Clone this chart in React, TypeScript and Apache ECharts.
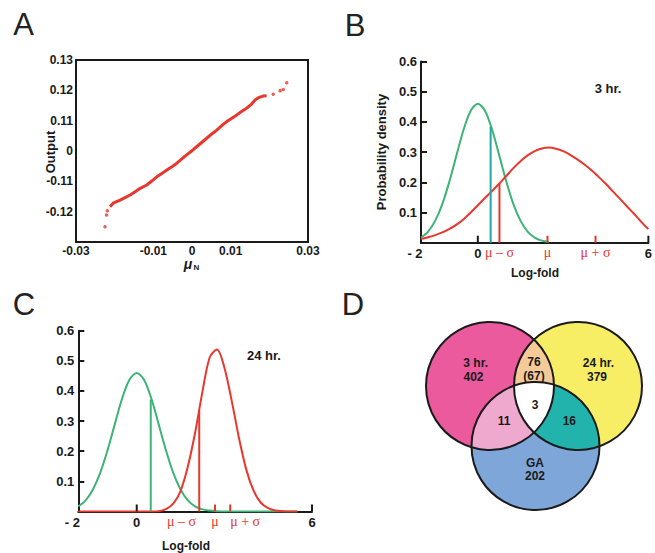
import React, { useEffect, useRef } from "react";
import * as echarts from "echarts";

// ---------------- Panel A : Q-Q plot ----------------
const A_TICKS_X = [-0.03, -0.02, -0.01, 0, 0.01, 0.02, 0.03];
const A_TICK_LABELS_X = ["-0.03", "", "-0.01", "0", "0.01", "", "0.03"];
const A_TICKS_Y = [-0.03, -0.02, -0.01, 0, 0.01, 0.02, 0.03];
const A_TICK_LABELS_Y = ["", "-0.12", "-0.11", "0", "0.11", "0.12", "0.13"];
const A_LINE_X = [-0.0212, -0.0204, -0.0195, -0.0186, -0.0172, -0.016, -0.0147, -0.0134, -0.0117, -0.0104, -0.0091, -0.0078, -0.0065, -0.0052, -0.004, -0.0027, -0.0014, 0.0, 0.0012, 0.0025, 0.0038, 0.0051, 0.0064, 0.0077, 0.009, 0.0103, 0.0116, 0.0128, 0.0141, 0.0152, 0.0163, 0.0174, 0.0184, 0.0193];
const A_LINE_Y = [-0.0184, -0.0172, -0.0167, -0.0162, -0.0153, -0.0145, -0.0134, -0.0123, -0.0112, -0.0099, -0.0085, -0.0074, -0.0063, -0.0052, -0.0041, -0.0027, -0.0013, 0.0001, 0.0014, 0.0028, 0.0042, 0.0056, 0.0069, 0.0084, 0.0097, 0.0108, 0.0119, 0.013, 0.0141, 0.0152, 0.0168, 0.0177, 0.0181, 0.0182];
const A_OUT_X = [-0.0225, -0.0221, -0.0219, 0.021, 0.0228, 0.0236, 0.0245];
const A_OUT_Y = [-0.025, -0.0211, -0.0197, 0.0187, 0.0199, 0.0203, 0.0225];

// ---------------- Panels B & C : densities ----------------
const LOG_X = [-2, -1.75, -1.5, -1.25, -1, -0.75, -0.5, -0.25, 0, 0.25, 0.5, 0.75, 1, 1.25, 1.5, 1.75, 2, 2.25, 2.5, 2.75, 3, 3.25, 3.5, 3.75, 4, 4.25, 4.5, 4.75, 5, 5.25, 5.5, 5.75, 6];
const LOG_TICKS = [-2, 0, 2, 4, 6];
const LOG_TICK_LABELS = ["- 2", "0", "", "", "6"];
const DENSITY_TICKS = [0, 0.1, 0.2, 0.3, 0.4, 0.5, 0.6];
const DENSITY_LABELS = ["", "0.1", "0.2", "0.3", "0.4", "0.5", "0.6"];

const GREEN_B = [0.017, 0.037, 0.073, 0.128, 0.203, 0.29, 0.375, 0.437, 0.46, 0.437, 0.375, 0.29, 0.203, 0.128, 0.073, 0.037, 0.017, 0.007, 0.003, null, null, null, null, null, null, null, null, null, null, null, null, null, null];
const RED_B = [0.012, 0.018, 0.025, 0.034, 0.046, 0.06, 0.078, 0.1, 0.124, 0.148, 0.171, 0.195, 0.221, 0.247, 0.27, 0.289, 0.303, 0.312, 0.315, 0.311, 0.303, 0.291, 0.276, 0.259, 0.24, 0.218, 0.195, 0.17, 0.145, 0.12, 0.095, 0.069, 0.045];
const GREEN_C = [0.017, 0.037, 0.073, 0.128, 0.203, 0.29, 0.375, 0.437, 0.46, 0.437, 0.375, 0.29, 0.203, 0.128, 0.073, 0.037, 0.017, 0.007, 0.003, 0.001, 0, 0, 0, 0, 0, 0, 0, 0, 0, 0, 0, null, null];
const RED_C = [0, 0, 0, 0, 0, 0, 0, 0, 0, 0, 0, 0.001, 0.008, 0.026, 0.068, 0.149, 0.262, 0.398, 0.512, 0.538, 0.478, 0.368, 0.244, 0.139, 0.069, 0.029, 0.011, 0.003, 0.001, 0, 0, null, null];

// thresholds (vertical lines): [x, height]
const B_GREEN_CUT = [0.45, 0.385];
const B_RED_CUT = [0.76, 0.195];
const C_GREEN_CUT = [0.48, 0.372];
const C_RED_CUT = [2.14, 0.335];

const BLACK_TICKS = [0, 6];
const B_RED_TICKS = [2.45, 4.14];
const C_RED_TICKS = [2.68, 3.2];
const MU_LABELS = ["\u03bc \u2013 \u03c3", "\u03bc", "\u03bc + \u03c3"];
const B_MU_LABEL_AT = [0.76, 2.45, 4.14];
const C_MU_LABEL_AT = [1.53, 2.68, 3.71];

// ---------------- Panel D : Venn ----------------
const VENN_CX = [8.0, 16.8, 12.55];
const VENN_CY = [7.6, 7.6, 13.6];
const VENN_R = [6.4, 6.4, 6.4];
const VENN_TEXT = ["3 hr.", "402", "76", "(67)", "24 hr.", "379", "3", "11", "16", "GA", "202"];
const VENN_TEXT_X = [6.57, 6.35, 12.4, 12.4, 18.85, 18.7, 12.5, 9.4, 15.93, 12.5, 12.5];
const VENN_TEXT_Y = [5.3, 6.65, 5.2, 6.55, 5.3, 6.65, 9.5, 11.07, 11.07, 15.25, 16.6];

const FONT = "'Liberation Sans', Arial, Helvetica, sans-serif";
const SERIF = "'Liberation Serif', 'DejaVu Serif', serif";
const RED = "#E8372C";
const GREEN = "#3DB476";
const TEAL = "#22A8A4";
const INK = "#1a1a1a";

const VENN_FILL = ["#EA5A9D", "#F8EE66", "#7FA6D9"];
const VENN_PAIR_FILL = { py: "#F4CA98", pb: "#EFA8CE", yb: "#22B3AD" };

function pickLabel(ticks: number[], labels: string[]) {
  return (v: number) => {
    const i = ticks.findIndex((t) => Math.abs(t - v) < 1e-9);
    return i >= 0 ? labels[i] : "";
  };
}

function pairs(xs: number[], ys: (number | null)[]) {
  return xs.map((x, i) => [x, ys[i]]).filter((p) => p[1] != null);
}

function tickSeries(grid: number, values: number[], color: string, len: number) {
  return {
    type: "custom",
    xAxisIndex: grid,
    yAxisIndex: grid,
    clip: false,
    silent: true,
    z: 5,
    data: values.map((v) => [v, 0]),
    renderItem: (_p: any, api: any) => {
      const p = api.coord([api.value(0), 0]);
      return {
        type: "line",
        shape: { x1: p[0], y1: p[1], x2: p[0], y2: p[1] - len },
        style: { stroke: color, lineWidth: 2 },
      };
    },
  };
}

function muLabelSeries(grid: number, at: number[]) {
  return {
    type: "custom",
    xAxisIndex: grid,
    yAxisIndex: grid,
    clip: false,
    silent: true,
    data: at.map((v) => [v, 0]),
    renderItem: (params: any, api: any) => {
      const p = api.coord([api.value(0), 0]);
      return {
        type: "text",
        x: p[0],
        y: p[1] + 10,
        style: {
          text: MU_LABELS[params.dataIndex],
          fill: RED,
          font: `14px ${SERIF}`,
          align: "center",
          verticalAlign: "middle",
          textAlign: "center",
          textVerticalAlign: "middle",
        },
      };
    },
  };
}

function curve(grid: number, ys: (number | null)[], color: string) {
  return {
    type: "line",
    xAxisIndex: grid,
    yAxisIndex: grid,
    data: pairs(LOG_X, ys),
    smooth: 0.3,
    showSymbol: false,
    symbol: "none",
    lineStyle: { color, width: 2 },
    z: 3,
  };
}

function cutLine(grid: number, cut: number[], color: string) {
  return {
    type: "line",
    xAxisIndex: grid,
    yAxisIndex: grid,
    data: [
      [cut[0], 0],
      [cut[0], cut[1]],
    ],
    showSymbol: false,
    symbol: "none",
    lineStyle: { color, width: 2 },
    z: 4,
  };
}

function densityAxes(grid: number) {
  const x = {
    type: "value",
    gridIndex: grid,
    min: -2,
    max: 6,
    interval: 2,
    axisLine: { show: true, onZero: false, lineStyle: { color: INK, width: 2 } },
    axisTick: { show: false },
    splitLine: { show: false },
    axisLabel: {
      margin: 4,
      formatter: (v: number) => {
        const s = pickLabel(LOG_TICKS, LOG_TICK_LABELS)(v);
        return s === "- 2" ? `{l|${s}}` : s;
      },
      color: INK,
      fontFamily: FONT,
      fontWeight: "bold",
      fontSize: 13,
      rich: { l: { padding: [0, 12, 0, 0], fontFamily: FONT, fontWeight: "bold", fontSize: 13, color: INK } },
    },
  };
  const y = {
    type: "value",
    gridIndex: grid,
    min: 0,
    max: 0.6,
    interval: 0.1,
    axisLine: { show: true, onZero: false, lineStyle: { color: INK, width: 2 } },
    axisTick: { show: true, inside: true, length: 6, lineStyle: { color: INK, width: 2 } },
    splitLine: { show: false },
    axisLabel: {
      margin: 4,
      formatter: pickLabel(DENSITY_TICKS, DENSITY_LABELS),
      color: INK,
      fontFamily: FONT,
      fontWeight: "bold",
      fontSize: 13,
    },
  };
  return { x, y };
}

function vennSeries() {
  return {
    type: "custom",
    xAxisIndex: 3,
    yAxisIndex: 3,
    clip: false,
    silent: true,
    data: [[0, 0]],
    renderItem: (_params: any, api: any) => {
      const c = VENN_CX.map((x, i) => api.coord([x, VENN_CY[i]]));
      const r = VENN_R.map((rr) => api.size([rr, 0])[0]);
      const inside = (p: number[], j: number) =>
        Math.hypot(p[0] - c[j][0], p[1] - c[j][1]) <= r[j] + 0.3;
      const region = (ids: number[]) => {
        const pts: number[][] = [];
        ids.forEach((i) => {
          for (let k = 0; k < 1080; k++) {
            const t = (k / 1080) * Math.PI * 2;
            const p = [c[i][0] + r[i] * Math.cos(t), c[i][1] + r[i] * Math.sin(t)];
            if (ids.every((j) => j === i || inside(p, j))) pts.push(p);
          }
        });
        const mx = pts.reduce((s, p) => s + p[0], 0) / pts.length;
        const my = pts.reduce((s, p) => s + p[1], 0) / pts.length;
        pts.sort((a, b) => Math.atan2(a[1] - my, a[0] - mx) - Math.atan2(b[1] - my, b[0] - mx));
        return pts;
      };
      const children: any[] = [];
      c.forEach((cc, i) =>
        children.push({ type: "circle", shape: { cx: cc[0], cy: cc[1], r: r[i] }, style: { fill: VENN_FILL[i] } })
      );
      const poly = (ids: number[], fill: string) =>
        children.push({ type: "polygon", shape: { points: region(ids) }, style: { fill } });
      poly([0, 1], VENN_PAIR_FILL.py);
      poly([0, 2], VENN_PAIR_FILL.pb);
      poly([1, 2], VENN_PAIR_FILL.yb);
      poly([0, 1, 2], "#FFFFFF");
      c.forEach((cc, i) =>
        children.push({
          type: "circle",
          shape: { cx: cc[0], cy: cc[1], r: r[i] },
          style: { fill: "none", stroke: INK, lineWidth: 2 },
        })
      );
      VENN_TEXT.forEach((t, i) => {
        const p = api.coord([VENN_TEXT_X[i], VENN_TEXT_Y[i]]);
        children.push({
          type: "text",
          x: p[0],
          y: p[1],
          style: {
            text: t,
            fill: INK,
            font: `bold 12px ${FONT}`,
            align: "center",
            verticalAlign: "middle",
            textAlign: "center",
            textVerticalAlign: "middle",
          },
        });
      });
      return { type: "group", children };
    },
  };
}

function txt(text: string, x: number, y: number, font: string, extra: any = {}) {
  return {
    type: "text",
    x,
    y,
    silent: true,
    ...extra,
    style: {
      text,
      fill: extra.fill || INK,
      font,
      align: "center",
      verticalAlign: "middle",
      textAlign: "center",
      textVerticalAlign: "middle",
    },
  };
}

function buildOption() {
  const b = densityAxes(1);
  const cAx = densityAxes(2);
  const letterFont = `31px ${FONT}`;
  return {
    animation: false,
    backgroundColor: "#ffffff",
    grid: [
      { left: 76, top: 60, width: 232, height: 182, show: true, borderColor: INK, borderWidth: 2, backgroundColor: "transparent" },
      { left: 421, top: 61.5, width: 232, height: 181.2 },
      { left: 78.3, top: 330.7, width: 233.7, height: 180.8 },
      { left: 410, top: 310, width: 240, height: 220 },
    ],
    xAxis: [
      {
        type: "value",
        gridIndex: 0,
        min: -0.03,
        max: 0.03,
        interval: 0.01,
        axisLine: { show: false },
        axisTick: { show: false },
        splitLine: { show: false },
        axisLabel: {
          margin: 3,
          formatter: pickLabel(A_TICKS_X, A_TICK_LABELS_X),
          color: INK,
          fontFamily: FONT,
          fontWeight: "bold",
          fontSize: 12,
        },
      },
      b.x,
      cAx.x,
      { type: "value", gridIndex: 3, min: 0, max: 24, show: false },
    ],
    yAxis: [
      {
        type: "value",
        gridIndex: 0,
        min: -0.03,
        max: 0.03,
        interval: 0.01,
        axisLine: { show: false },
        axisTick: { show: false },
        splitLine: { show: false },
        axisLabel: {
          margin: 3,
          formatter: pickLabel(A_TICKS_Y, A_TICK_LABELS_Y),
          color: INK,
          fontFamily: FONT,
          fontWeight: "bold",
          fontSize: 12,
        },
      },
      b.y,
      cAx.y,
      { type: "value", gridIndex: 3, min: 0, max: 22, inverse: true, show: false },
    ],
    series: [
      {
        type: "line",
        xAxisIndex: 0,
        yAxisIndex: 0,
        data: pairs(A_LINE_X, A_LINE_Y),
        showSymbol: false,
        symbol: "none",
        lineStyle: { color: RED, width: 3 },
      },
      {
        type: "scatter",
        xAxisIndex: 0,
        yAxisIndex: 0,
        data: pairs(A_OUT_X, A_OUT_Y),
        symbolSize: 3.5,
        itemStyle: { color: RED },
      },
      // B
      curve(1, GREEN_B, GREEN),
      curve(1, RED_B, RED),
      cutLine(1, B_GREEN_CUT, TEAL),
      cutLine(1, B_RED_CUT, RED),
      tickSeries(1, BLACK_TICKS, INK, 7),
      tickSeries(1, B_RED_TICKS, RED, 7),
      muLabelSeries(1, B_MU_LABEL_AT),
      // C
      curve(2, GREEN_C, GREEN),
      curve(2, RED_C, RED),
      cutLine(2, C_GREEN_CUT, GREEN),
      cutLine(2, C_RED_CUT, RED),
      tickSeries(2, BLACK_TICKS, INK, 7),
      tickSeries(2, C_RED_TICKS, RED, 7),
      muLabelSeries(2, C_MU_LABEL_AT),
      // D
      vennSeries(),
    ],
    graphic: [
      txt("A", 23.5, 24, letterFont, { fill: "#222" }),
      txt("B", 355, 25, letterFont, { fill: "#222" }),
      txt("C", 24, 304, letterFont, { fill: "#222" }),
      txt("D", 353, 304, letterFont, { fill: "#222" }),
      txt("Output", 50, 152, `bold 13px ${FONT}`, { rotation: Math.PI / 2 }),
      txt("\u03bc", 188, 264, `bold italic 14px ${FONT}`),
      txt("N", 196.5, 267.5, `bold 8px ${FONT}`),
      txt("Probability density", 381, 152, `bold 13px ${FONT}`, { rotation: Math.PI / 2 }),
      txt("Log-fold", 535, 273, `bold 12px ${FONT}`),
      txt("3 hr.", 608, 88, `bold 13px ${FONT}`),
      txt("Log-fold", 186, 546, `bold 12px ${FONT}`),
      txt("24 hr.", 264, 355, `bold 13px ${FONT}`),
    ],
  };
}

export default function App() {
  const ref = useRef<HTMLDivElement>(null);
  useEffect(() => {
    const chart = echarts.init(ref.current!, null, { renderer: "svg" });
    chart.setOption(buildOption() as any);
    return () => chart.dispose();
  }, []);
  return (
    <div
      ref={ref}
      style={{ position: "absolute", left: 0, top: 0, width: 655, height: 553, background: "#fff" }}
    />
  );
}
